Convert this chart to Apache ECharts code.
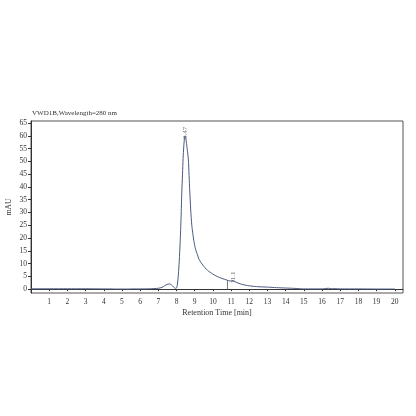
<!DOCTYPE html>
<html><head><meta charset="utf-8">
<script src="https://cdn.jsdelivr.net/npm/echarts@6/dist/echarts.min.js"></script>
<style>html,body{margin:0;padding:0;background:#fff}#c{width:416px;height:416px}</style>
</head><body><div id="c"></div>
<script>
const titleText = "VWD1B,Wavelength=280 nm";
const xName = "Retention Time [min]";
const yName = "mAU";
const xTicks = [1,2,3,4,5,6,7,8,9,10,11,12,13,14,15,16,17,18,19,20];
const yTicks = [0,5,10,15,20,25,30,35,40,45,50,55,60,65];
const times = [0,1,2,3,4,4.4,4.6,5.0,5.4,5.6,6,6.5,7.0,7.2,7.35,7.48,7.6,7.72,7.83,7.93,7.99,8.04,8.10,8.15,8.20,8.25,8.29,8.33,8.36,8.40,8.44,8.47,8.50,8.55,8.60,8.65,8.69,8.73,8.78,8.84,8.90,8.96,9.05,9.15,9.24,9.45,9.7,10.0,10.25,10.5,10.75,10.95,11.1,11.25,11.5,11.9,12.4,13.0,13.5,14.0,14.5,15.0,15.5,16.0,16.2,16.35,16.5,16.7,17,18,19,20];
const signal = [0.15,0.15,0.15,0.15,0.1,0.1,0.05,0.05,0.05,0.1,0.1,0.15,0.35,0.7,1.3,1.85,2.05,1.7,0.9,0.35,0.4,1.5,5.6,11,18.6,28,38,45,51,56,59.2,60,59.5,57,54,51,44.5,38,31,25,21.5,18.6,15.5,13.5,11.6,9.4,7.4,5.9,4.9,4.2,3.6,3.2,3.4,2.8,2.1,1.4,1.0,0.8,0.6,0.45,0.3,0.1,0.1,0.1,0.25,0.35,0.15,0.2,0.1,0.1,0.05,0.05];
const peakTimes = [8.47, 11.1];
const peakValues = [60, 3.4];
const peakLabels = ["8.47", "11.1"];
const markerTimes = [10.8, 10.8];
const markerValues = [0, 3.5];

const chart = echarts.init(document.getElementById('c'), null, {renderer:'canvas'});
const fnt = "'Liberation Serif', serif";
chart.setOption({
  backgroundColor:'#fff',
  animation:false,
  title:{text:titleText,left:32,top:110,padding:0,textStyle:{fontFamily:fnt,fontSize:7,fontWeight:'normal',color:'#333'}},
  grid:{left:31,top:121,right:13,bottom:123,containLabel:false,outerBoundsMode:'none',show:true,borderColor:'#555',borderWidth:1},
  xAxis:{type:'value',min:0,max:20.45,name:xName,nameLocation:'middle',nameGap:16,
    nameTextStyle:{fontFamily:fnt,fontSize:8,color:'#333'},
    axisLine:{lineStyle:{color:'#333'}},
    axisTick:{customValues:xTicks,inside:false,length:2,lineStyle:{color:'#333'}},
    axisLabel:{customValues:xTicks,fontFamily:fnt,fontSize:7.5,color:'#333',margin:5},
    splitLine:{show:false}},
  yAxis:{type:'value',min:-1.5,max:65.8,name:yName,nameLocation:'middle',nameGap:18,nameMoveOverlap:false,nameRotate:90,
    nameTextStyle:{fontFamily:fnt,fontSize:7.5,color:'#333'},
    axisLine:{show:true,lineStyle:{color:'#333'}},
    axisTick:{show:true,customValues:yTicks,length:3,lineStyle:{color:'#333'}},
    axisLabel:{customValues:yTicks,fontFamily:fnt,fontSize:7.5,color:'#333',margin:4},
    splitLine:{show:false}},
  series:[
    {type:'line',data:times.map((t,i)=>[t,signal[i]]),smooth:0.25,showSymbol:false,
      lineStyle:{color:'#4a5a7e',width:1}},
    {type:'line',data:markerTimes.map((t,i)=>[t,markerValues[i]]),showSymbol:false,
      lineStyle:{color:'#555',width:0.8}},
    {type:'scatter',data:peakTimes.map((t,i)=>[t,peakValues[i]]),symbolSize:0,
      label:{show:true,formatter:p=>peakLabels[p.dataIndex],rotate:90,position:'top',distance:3,offset:[0,4],
        fontFamily:fnt,fontSize:7,color:'#555'}}
  ]
});
</script></body></html>
